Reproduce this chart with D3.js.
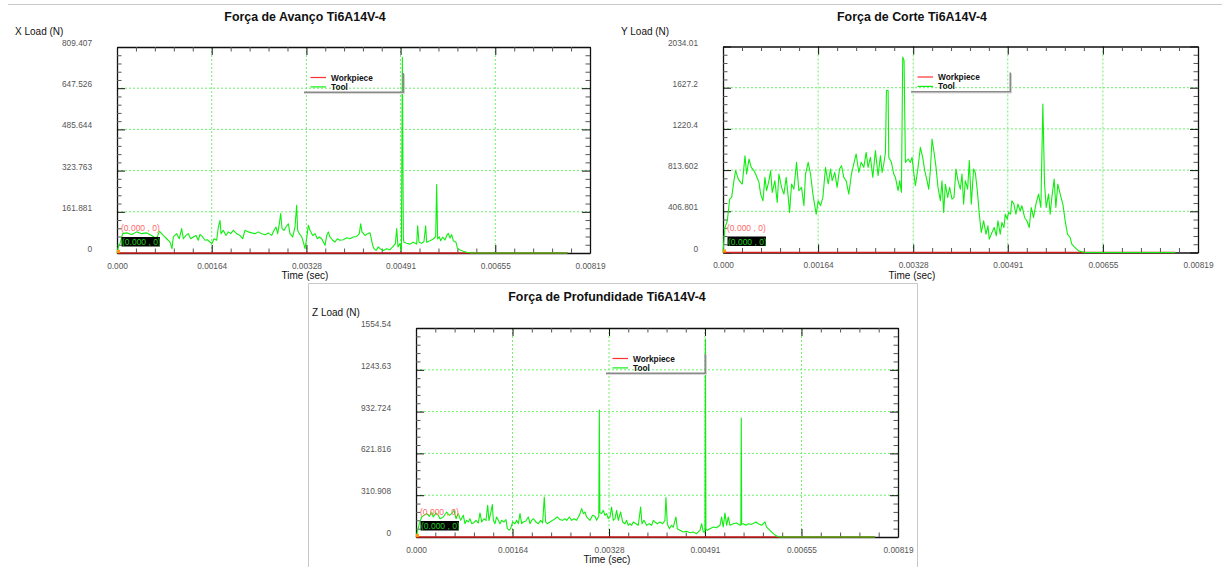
<!DOCTYPE html>
<html>
<head>
<meta charset="utf-8">
<script src="https://cdn.jsdelivr.net/npm/d3@7"></script>
<style>
body { margin: 0; background: #fff; }
svg { display: block; font-family: "Liberation Sans", Arial, sans-serif; }
</style>
</head>
<body>
<svg id="chart" width="1222" height="567"></svg>
<script>
// tick labels, as printed on the axes
const xTickLabels = ['0.000', '0.00164', '0.00328', '0.00491', '0.00655', '0.00819']
const xLoadLabels = ['0', '161.881', '323.763', '485.644', '647.526', '809.407']
const yLoadLabels = ['0', '406.801', '813.602', '1220.4', '1627.2', '2034.01']
const zLoadLabels = ['0', '310.908', '621.816', '932.724', '1243.63', '1554.54']

const seriesNames = ['Workpiece', 'Tool']

// workpiece load stays at zero over the whole run
const workpieceTime = [0, 0.0078]
const workpieceLoad = [0, 0]

// tool, X load (N) against time (sec)
const timeX = [0, 0.000023, 0.000052, 0.000098, 0.000167, 0.000254, 0.000341, 0.000427, 0.000514, 0.000600,
	0.000687, 0.000733, 0.000802, 0.000860, 0.000918, 0.000952, 0.000975, 0.001033, 0.001079, 0.001120,
	0.001149, 0.001195, 0.001235, 0.001276, 0.001322, 0.001368, 0.001408, 0.001437, 0.001483, 0.001524,
	0.001564, 0.001610, 0.001645, 0.001680, 0.001726, 0.001755, 0.001784, 0.001801, 0.001841, 0.001887,
	0.001928, 0.001968, 0.002014, 0.002072, 0.002130, 0.002176, 0.002216, 0.002274, 0.002332, 0.002390,
	0.002447, 0.002505, 0.002563, 0.002621, 0.002678, 0.002719, 0.002753, 0.002782, 0.002811, 0.002834,
	0.002857, 0.002892, 0.002926, 0.002967, 0.002996, 0.003042, 0.003082, 0.003111, 0.003128, 0.003157,
	0.003198, 0.003227, 0.003255, 0.003284, 0.003313, 0.003342, 0.003388, 0.003429, 0.003469, 0.003504,
	0.003544, 0.003573, 0.003602, 0.003631, 0.003659, 0.003688, 0.003735, 0.003775, 0.003815, 0.003861,
	0.003919, 0.003977, 0.004035, 0.004092, 0.004150, 0.004196, 0.004219, 0.004242, 0.004294, 0.004335,
	0.004381, 0.004427, 0.004450, 0.004485, 0.004525, 0.004554, 0.004612, 0.004670, 0.004727, 0.004773,
	0.004820, 0.004843, 0.004866, 0.004900, 0.004924, 0.004941, 0.004958, 0.004969, 0.005015, 0.005073,
	0.005131, 0.005189, 0.005206, 0.005229, 0.005275, 0.005316, 0.005344, 0.005362, 0.005419, 0.005477,
	0.005518, 0.005535, 0.005552, 0.005581, 0.005604, 0.005639, 0.005679, 0.005708, 0.005737, 0.005766,
	0.005795, 0.005824, 0.005870, 0.005893, 0.005939, 0.005997, 0.006054, 0.006141, 0.007800]
const loadX = [0, 24, 37, 76, 79, 73, 83, 76, 79, 69,
	56, 86, 69, 56, 43, 17, 63, 76, 56, 96,
	56, 69, 76, 56, 63, 69, 50, 73, 63, 50,
	52, 43, 37, 56, 50, 102, 128, 76, 89, 69,
	83, 76, 89, 76, 69, 56, 89, 83, 79, 76,
	83, 76, 72, 79, 69, 89, 102, 76, 115, 155,
	96, 89, 102, 115, 76, 63, 102, 187, 89, 76,
	63, 43, 17, 56, 109, 89, 69, 76, 56, 63,
	56, 43, 30, 69, 83, 63, 50, 43, 56, 50,
	52, 60, 56, 63, 65, 76, 115, 83, 69, 76,
	79, 30, 17, 10, 24, 17, 10, 17, 13, 24,
	37, 96, 24, 37, 10, 769, 60, 42, 38, 35,
	42, 35, 107, 42, 38, 46, 107, 42, 48, 55,
	64, 269, 55, 64, 48, 62, 51, 68, 77, 59,
	72, 48, 42, 20, 12, 7, 3, 0, 0]

// tool, Y load (N) against time (sec)
const timeY = [0, 0.000034, 0.000075, 0.000115, 0.000149, 0.000189, 0.000218, 0.000264, 0.000304, 0.000333,
	0.000379, 0.000407, 0.000448, 0.000488, 0.000534, 0.000562, 0.000620, 0.000649, 0.000689, 0.000723,
	0.000752, 0.000792, 0.000821, 0.000849, 0.000895, 0.000935, 0.000964, 0.001010, 0.001050, 0.001090,
	0.001125, 0.001148, 0.001182, 0.001222, 0.001268, 0.001308, 0.001354, 0.001395, 0.001423, 0.001469,
	0.001509, 0.001550, 0.001607, 0.001641, 0.001682, 0.001722, 0.001768, 0.001814, 0.001854, 0.001882,
	0.001928, 0.001968, 0.002009, 0.002043, 0.002083, 0.002123, 0.002169, 0.002215, 0.002255, 0.002296,
	0.002342, 0.002382, 0.002428, 0.002468, 0.002502, 0.002542, 0.002583, 0.002628, 0.002674, 0.002715,
	0.002743, 0.002772, 0.002801, 0.002818, 0.002847, 0.002858, 0.002904, 0.002944, 0.002973, 0.003019,
	0.003047, 0.003076, 0.003099, 0.003122, 0.003145, 0.003191, 0.003231, 0.003260, 0.003288, 0.003317,
	0.003363, 0.003403, 0.003443, 0.003478, 0.003518, 0.003547, 0.003575, 0.003604, 0.003639, 0.003673,
	0.003707, 0.003748, 0.003776, 0.003805, 0.003834, 0.003874, 0.003908, 0.003948, 0.003983, 0.004017,
	0.004052, 0.004092, 0.004121, 0.004149, 0.004178, 0.004218, 0.004247, 0.004281, 0.004321, 0.004350,
	0.004385, 0.004419, 0.004453, 0.004494, 0.004534, 0.004568, 0.004591, 0.004637, 0.004677, 0.004712,
	0.004740, 0.004780, 0.004809, 0.004844, 0.004867, 0.004901, 0.004924, 0.004958, 0.004981, 0.005016,
	0.005050, 0.005085, 0.005125, 0.005154, 0.005200, 0.005240, 0.005280, 0.005314, 0.005354, 0.005395,
	0.005441, 0.005481, 0.005515, 0.005544, 0.005573, 0.005613, 0.005641, 0.005670, 0.005710, 0.005739,
	0.005773, 0.005814, 0.005860, 0.005900, 0.005940, 0.005986, 0.006014, 0.006072, 0.006129, 0.006187,
	0.006244, 0.007800]
const loadY = [0, 247, 313, 527, 544, 709, 808, 725, 692, 676,
	956, 775, 923, 841, 808, 775, 692, 577, 511, 742,
	610, 709, 808, 593, 709, 495, 775, 643, 577, 742,
	544, 396, 676, 626, 890, 610, 643, 462, 775, 890,
	775, 577, 379, 511, 462, 544, 841, 676, 824, 709,
	791, 643, 824, 857, 742, 709, 577, 775, 874, 973,
	791, 890, 841, 989, 841, 940, 742, 1006, 758, 956,
	791, 874, 989, 1599, 1599, 940, 890, 775, 742, 610,
	709, 593, 1929, 1896, 890, 923, 890, 940, 791, 659,
	841, 1039, 940, 808, 709, 626, 808, 1121, 989, 841,
	643, 511, 709, 396, 676, 544, 643, 527, 544, 824,
	709, 626, 775, 478, 709, 626, 907, 478, 824, 791,
	610, 379, 198, 313, 181, 264, 132, 198, 247, 165,
	313, 181, 297, 247, 379, 330, 396, 379, 511, 478,
	379, 478, 412, 462, 346, 313, 247, 445, 346, 478,
	577, 445, 1467, 676, 445, 577, 379, 544, 725, 445,
	676, 577, 478, 313, 181, 148, 82, 49, 16, 7,
	0, 0]

// tool, Z load (N) against time (sec)
const timeZ = [0, 0.000023, 0.000057, 0.000096, 0.000136, 0.000181, 0.000227, 0.000266, 0.000294, 0.000340,
	0.000379, 0.000408, 0.000464, 0.000521, 0.000566, 0.000606, 0.000646, 0.000680, 0.000719, 0.000759,
	0.000804, 0.000832, 0.000861, 0.000889, 0.000917, 0.000946, 0.000974, 0.001019, 0.001059, 0.001087,
	0.001116, 0.001155, 0.001189, 0.001218, 0.001240, 0.001268, 0.001297, 0.001314, 0.001342, 0.001370,
	0.001399, 0.001427, 0.001455, 0.001495, 0.001529, 0.001552, 0.001586, 0.001608, 0.001642, 0.001682,
	0.001710, 0.001739, 0.001767, 0.001795, 0.001823, 0.001869, 0.001908, 0.001937, 0.001965, 0.001993,
	0.002039, 0.002078, 0.002118, 0.002152, 0.002180, 0.002203, 0.002231, 0.002277, 0.002322, 0.002361,
	0.002401, 0.002446, 0.002492, 0.002531, 0.002560, 0.002605, 0.002645, 0.002684, 0.002730, 0.002775,
	0.002815, 0.002843, 0.002871, 0.002899, 0.002928, 0.002956, 0.003001, 0.003041, 0.003069, 0.003098,
	0.003106, 0.003115, 0.003124, 0.003154, 0.003183, 0.003211, 0.003239, 0.003268, 0.003296, 0.003324,
	0.003352, 0.003381, 0.003409, 0.003437, 0.003477, 0.003511, 0.003551, 0.003579, 0.003607, 0.003636,
	0.003664, 0.003692, 0.003738, 0.003777, 0.003817, 0.003840, 0.003873, 0.003919, 0.003964, 0.004004,
	0.004032, 0.004060, 0.004100, 0.004145, 0.004191, 0.004230, 0.004247, 0.004270, 0.004304, 0.004343,
	0.004372, 0.004417, 0.004440, 0.004485, 0.004542, 0.004598, 0.004655, 0.004712, 0.004768, 0.004825,
	0.004853, 0.004882, 0.004910, 0.004918, 0.004926, 0.004949, 0.004995, 0.005051, 0.005108, 0.005165,
	0.005193, 0.005221, 0.005250, 0.005278, 0.005306, 0.005335, 0.005391, 0.005448, 0.005504, 0.005520,
	0.005527, 0.005534, 0.005561, 0.005606, 0.005646, 0.005702, 0.005742, 0.005776, 0.005816, 0.005872,
	0.005929, 0.005957, 0.006014, 0.006071, 0.006127, 0.006184, 0.007800]
const loadZ = [0, 37, 99, 149, 161, 174, 154, 186, 149, 179,
	161, 136, 149, 186, 161, 174, 198, 136, 174, 124,
	161, 99, 124, 112, 136, 99, 104, 124, 104, 179,
	112, 136, 124, 236, 124, 174, 241, 124, 99, 149,
	124, 99, 124, 112, 129, 62, 50, 62, 112, 99,
	124, 99, 174, 99, 112, 119, 149, 99, 124, 136,
	112, 99, 124, 104, 298, 112, 99, 112, 124, 136,
	149, 129, 124, 136, 124, 149, 124, 136, 124, 161,
	211, 174, 186, 149, 136, 124, 161, 154, 124, 149,
	150, 945, 180, 174, 198, 161, 174, 136, 149, 223,
	124, 136, 198, 124, 186, 112, 99, 124, 87, 99,
	87, 112, 99, 87, 223, 99, 124, 87, 99, 87,
	124, 112, 99, 112, 99, 124, 293, 99, 62, 87,
	74, 149, 62, 50, 37, 42, 32, 37, 25, 50,
	99, 37, 40, 1473, 60, 50, 62, 74, 69, 87,
	149, 74, 179, 87, 149, 87, 99, 104, 87, 90,
	885, 95, 99, 87, 99, 94, 104, 112, 99, 87,
	112, 74, 50, 25, 7, 0, 0]

const svg = d3.select('#chart')
svg.append('rect').attr('width', 1222).attr('height', 567).attr('fill', '#fff')

// panel frames
svg.append('line')
	.attr('x1', 8).attr('x2', 1222).attr('y1', 4.5).attr('y2', 4.5)
	.attr('stroke', '#c8c8c8')
svg.append('path')
	.attr('d', 'M308.5,567V283.5H917.5V567')
	.attr('fill', 'none')
	.attr('stroke', '#c8c8c8')

const charts = [
	{title: 'Força de Avanço Ti6A14V-4', yTitle: 'X Load (N)', yLabels: xLoadLabels, time: timeX, load: loadX,
		left: 117, right: 590, top: 47, bottom: 253, cx: 305, titleY: 20.5, yTitleX: 15},
	{title: 'Força de Corte Ti6A14V-4', yTitle: 'Y Load (N)', yLabels: yLoadLabels, time: timeY, load: loadY,
		left: 723, right: 1198, top: 46.5, bottom: 252.5, cx: 912, titleY: 20.5, yTitleX: 621},
	{title: 'Força de Profundidade Ti6A14V-4', yTitle: 'Z Load (N)', yLabels: zLoadLabels, time: timeZ, load: loadZ,
		left: 416, right: 898, top: 328, bottom: 537, cx: 607, titleY: 300.5, yTitleX: 312}
]

// four minor steps between two major ticks
function minorTicks(major) {
	var out = []
	for (var i = 0; i < major.length - 1; i++) {
		var step = (major[i + 1] - major[i]) / 5
		for (var j = 1; j < 5; j++) out.push(major[i] + step * j)
	}
	return out
}

function drawChart(c) {
	const g = svg.append('g')
	const xMax = +xTickLabels[xTickLabels.length - 1]
	const yMax = +c.yLabels[c.yLabels.length - 1]
	const xScale = d3.scaleLinear().domain([0, xMax]).range([c.left, c.right])
	const yScale = d3.scaleLinear().domain([0, yMax]).range([c.bottom, c.top])
	const xMajor = xTickLabels.map(Number)
	const yMajor = c.yLabels.map(Number)
	const xMinor = minorTicks(xMajor)
	const yMinor = minorTicks(yMajor)

	// dashed grid
	g.append('g').selectAll('line')
		.data(xMajor.slice(1, -1))
		.join('line')
		.attr('x1', d => xScale(d)).attr('x2', d => xScale(d))
		.attr('y1', c.top).attr('y2', c.bottom)
		.attr('stroke', '#6cf06c').attr('stroke-dasharray', '2,2')
	g.append('g').selectAll('line')
		.data(yMajor.slice(1, -1))
		.join('line')
		.attr('x1', c.left).attr('x2', c.right)
		.attr('y1', d => yScale(d)).attr('y2', d => yScale(d))
		.attr('stroke', '#6cf06c').attr('stroke-dasharray', '2,2')

	// frame ticks, all pointing inward
	const sides = [
		[d3.axisBottom, xScale, xMajor, xMinor, `translate(0,${c.bottom})`],
		[d3.axisTop, xScale, xMajor, xMinor, `translate(0,${c.top})`],
		[d3.axisLeft, yScale, yMajor, yMinor, `translate(${c.left},0)`],
		[d3.axisRight, yScale, yMajor, yMinor, `translate(${c.right},0)`]
	]
	sides.forEach(function (s) {
		g.append('g').attr('transform', s[4])
			.call(s[0](s[1]).tickValues(s[3]).tickSize(-4.5).tickSizeOuter(0).tickFormat(''))
			.call(a => a.selectAll('.tick line').attr('stroke', '#555'))
			.call(a => a.select('.domain').attr('stroke', '#111').attr('stroke-width', 1.3))
		g.append('g').attr('transform', s[4])
			.call(s[0](s[1]).tickValues(s[2]).tickSize(-8).tickSizeOuter(0).tickFormat(''))
			.call(a => a.selectAll('.tick line').attr('stroke', '#111'))
			.call(a => a.select('.domain').remove())
	})

	// tick labels
	g.append('g').attr('transform', `translate(0,${c.bottom})`)
		.call(d3.axisBottom(xScale).tickValues(xMajor).tickSize(0).tickPadding(10)
			.tickFormat((d, i) => xTickLabels[i]))
		.call(a => a.select('.domain').remove())
		.call(a => a.selectAll('text').attr('font-size', 8.3).attr('fill', '#555')
			.attr('font-family', '"Liberation Sans", Arial, sans-serif'))
	g.append('g').attr('transform', `translate(${c.left},0)`)
		.call(d3.axisLeft(yScale).tickValues(yMajor).tickSize(0).tickPadding(25)
			.tickFormat((d, i) => c.yLabels[i]))
		.call(a => a.select('.domain').remove())
		.call(a => a.selectAll('text').attr('font-size', 8.3).attr('fill', '#555').attr('dy', '-0.18em')
			.attr('font-family', '"Liberation Sans", Arial, sans-serif'))

	// series
	const line = d3.line().x(d => xScale(d[0])).y(d => yScale(d[1]))
	g.append('path')
		.datum(d3.zip(workpieceTime, workpieceLoad))
		.attr('d', line)
		.attr('fill', 'none').attr('stroke', '#d42020').attr('stroke-width', 1.6)
	g.append('path')
		.datum(d3.zip(c.time, c.load))
		.attr('d', line)
		.attr('fill', 'none').attr('stroke', '#10ee10').attr('stroke-width', 1.1)
		.attr('stroke-linejoin', 'round')

	// cursor read-out left at the origin
	g.append('rect')
		.attr('x', c.left).attr('y', c.bottom - 3).attr('width', 3).attr('height', 3)
		.attr('fill', '#ff9a00')
	g.append('text')
		.attr('x', c.left + 4).attr('y', c.bottom - 22)
		.attr('font-size', 8.5).attr('fill', '#ff6a6a')
		.text('(0.000 , 0)')
	const clipId = 'clip' + c.left
	g.append('clipPath').attr('id', clipId)
		.append('rect')
		.attr('x', c.left + 4.5).attr('y', c.bottom - 16).attr('width', 38.5).attr('height', 9.5)
	g.append('rect')
		.attr('x', c.left + 4.5).attr('y', c.bottom - 16).attr('width', 38.5).attr('height', 9.5)
		.attr('fill', '#000')
	g.append('text')
		.attr('clip-path', `url(#${clipId})`)
		.attr('x', c.left + 5).attr('y', c.bottom - 8)
		.attr('font-size', 8.5).attr('fill', '#1fd01f')
		.text('(0.000 , 0)')

	// legend
	const lx = c.cx - 1
	const ly = c.top
	g.append('path')
		.attr('d', `M${lx},${ly + 46.5}H${lx + 100.5}V${ly + 27}`)
		.attr('fill', 'none').attr('stroke', '#d8d8d8').attr('stroke-width', 1)
	g.append('path')
		.attr('d', `M${lx},${ly + 45.3}H${lx + 99.3}V${ly + 26}`)
		.attr('fill', 'none').attr('stroke', '#8a8a8a').attr('stroke-width', 1.6)
	const legendColors = ['#ff3030', '#10ee10']
	seriesNames.forEach(function (name, i) {
		g.append('line')
			.attr('x1', lx + 6.5).attr('x2', lx + 22)
			.attr('y1', ly + 30.5 + i * 9.4).attr('y2', ly + 30.5 + i * 9.4)
			.attr('stroke', legendColors[i]).attr('stroke-width', 1.2)
		g.append('text')
			.attr('x', lx + 27).attr('y', ly + 33.5 + i * 9.2)
			.attr('font-size', 8.3).attr('font-weight', 'bold').attr('fill', '#111')
			.text(name)
	})

	// titles
	g.append('text')
		.attr('x', c.cx).attr('y', c.titleY)
		.attr('text-anchor', 'middle')
		.attr('font-size', 12.4).attr('font-weight', 'bold').attr('fill', '#111')
		.text(c.title)
	g.append('text')
		.attr('x', c.yTitleX).attr('y', c.top - 12)
		.attr('font-size', 10).attr('fill', '#111')
		.text(c.yTitle)
	g.append('text')
		.attr('x', c.cx).attr('y', c.bottom + 26)
		.attr('text-anchor', 'middle')
		.attr('font-size', 10).attr('fill', '#111')
		.text('Time (sec)')
}

charts.forEach(drawChart)
</script>
</body>
</html>
